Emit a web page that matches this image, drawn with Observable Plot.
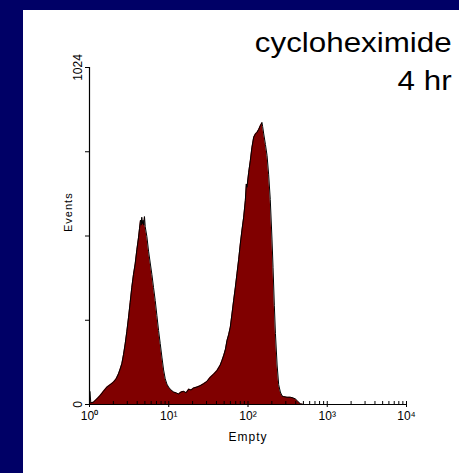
<!DOCTYPE html>
<html>
<head>
<meta charset="utf-8">
<script src="https://cdn.jsdelivr.net/npm/d3@7"></script>
<script src="https://cdn.jsdelivr.net/npm/@observablehq/plot@0.6"></script>
<style>
  html, body { margin: 0; padding: 0; }
  body { width: 459px; height: 473px; background: #000066; position: relative; overflow: hidden; font-family: "Liberation Sans", Arial, sans-serif; }
  #panel { position: absolute; left: 23px; top: 10px; width: 436px; height: 463px; background: #ffffff; }
  #title { position: absolute; right: 7px; top: 14px; text-align: right; font-size: 27px; line-height: 38px; color: #000; transform: scaleX(1.16); transform-origin: right top; white-space: nowrap; }
  #chart { position: absolute; left: 0; top: 0; }
</style>
</head>
<body>
<div id="panel">
  <div id="chart"></div>
  <div id="title">cycloheximide<br>4 hr</div>
</div>
<script>
// Histogram outline (channel value on log axis, event count)
const channel = [1, 1.01, 1.04, 1.12, 1.24, 1.36, 1.50, 1.66, 1.82, 2.01, 2.17, 2.32, 2.44, 2.56, 2.69, 2.82, 2.96, 3.11, 3.26, 3.42, 3.59, 3.77, 3.96, 4.16, 4.28, 4.40, 4.49, 4.57, 4.66, 4.75, 4.84, 4.94, 5.05, 5.30, 5.56, 5.84, 6.13, 6.43, 6.75, 7.09, 7.44, 7.81, 8.20, 8.61, 9.03, 9.48, 9.95, 10.6, 11.5, 12.5, 13.3, 14.3, 15.4, 16.6, 17.9, 19.1, 20.6, 22.7, 24.9, 27.5, 30.3, 33.4, 36.8, 40.6, 44.7, 47.0, 49.5, 52.0, 54.3, 57.0, 59.8, 62.8, 65.9, 69.2, 72.6, 76.2, 80.0, 84.0, 88.2, 92.6, 95.3, 97.1, 102, 107, 112, 118, 124, 130, 136, 143, 147, 150, 153, 158, 166, 174, 182, 191, 201, 207, 215, 222, 233, 244, 256, 269, 282, 311, 343, 370, 396, 424, 458, 505, 10000];
const events = [0, 40, 5, 7, 17, 27, 40, 53, 60, 68, 78, 93, 108, 124, 152, 184, 222, 265, 310, 356, 395, 427, 470, 508, 535, 560, 545, 569, 550, 560, 545, 571, 540, 510, 466, 430, 395, 355, 316, 270, 225, 185, 144, 105, 78, 62, 53, 45, 38, 35, 32, 38, 40, 36, 47, 44, 50, 53, 57, 63, 70, 83, 92, 103, 120, 134, 150, 168, 194, 212, 235, 275, 316, 355, 397, 440, 488, 530, 569, 620, 670, 660, 705, 741, 780, 812, 822, 827, 835, 847, 852, 857, 845, 822, 790, 756, 700, 623, 500, 417, 300, 215, 120, 60, 38, 26, 24, 22, 22, 20, 17, 10, 2, 0, 0];

const yTicks = [0, 256, 512, 768, 1024];
const yLabels = {0: "0", 1024: "1024"};
const xMajor = [1, 10, 100, 1000, 10000];
const xLabels = ["10\u2070", "10\u00B9", "10\u00B2", "10\u00B3", "10\u2074"];
const xMinor = [2,3,4,5,6,7,8,9,20,30,40,50,60,70,80,90,200,300,400,500,600,700,800,900,2000,3000,4000,5000,6000,7000,8000,9000];
const yTitle = "Events";
const xTitle = "Empty";

const data = channel.map((c, i) => ({c, n: events[i]}));

const chart = Plot.plot({
  width: 436,
  height: 463,
  marginLeft: 66,
  marginRight: 53,
  marginTop: 57,
  marginBottom: 69,
  style: {fontFamily: "'Liberation Sans', Arial, sans-serif", fontSize: "12px", background: "transparent", color: "#000"},
  x: {type: "log", domain: [1, 10000]},
  y: {domain: [0, 1024]},
  marks: [
    Plot.areaY(data, {x: "c", y: "n", fill: "#800000"}),
    Plot.lineY(data, {x: "c", y: "n", stroke: "#000", strokeWidth: 1}),
    Plot.ruleY([0], {stroke: "#000", strokeWidth: 1.2}),
    Plot.ruleX([1], {stroke: "#000", strokeWidth: 1.2}),
    Plot.axisY({ticks: yTicks, tickSize: 4, tickRotate: -90, tickPadding: 4,
      tickFormat: d => yLabels[d] ?? "", label: null, fontSize: 12}),
    Plot.axisX({ticks: xMinor, tickSize: 3, dy: -3, tickFormat: () => "", label: null}),
    Plot.axisX({ticks: xMajor, tickSize: 6, dy: -3, tickPadding: 4,
      tickFormat: (d) => xLabels[xMajor.indexOf(d)], label: null, fontSize: 12}),
    Plot.text([yTitle], {frameAnchor: "left", rotate: -90, dx: -21, dy: -4, fontSize: 11}),
    Plot.text([xTitle], {frameAnchor: "bottom", dy: 36, fontSize: 12})
  ]
});
d3.select(chart).selectAll("text").filter(function() { return this.textContent === xTitle || this.textContent === yTitle; }).style("letter-spacing", "1px");
document.getElementById("chart").appendChild(chart);
</script>
</body>
</html>
